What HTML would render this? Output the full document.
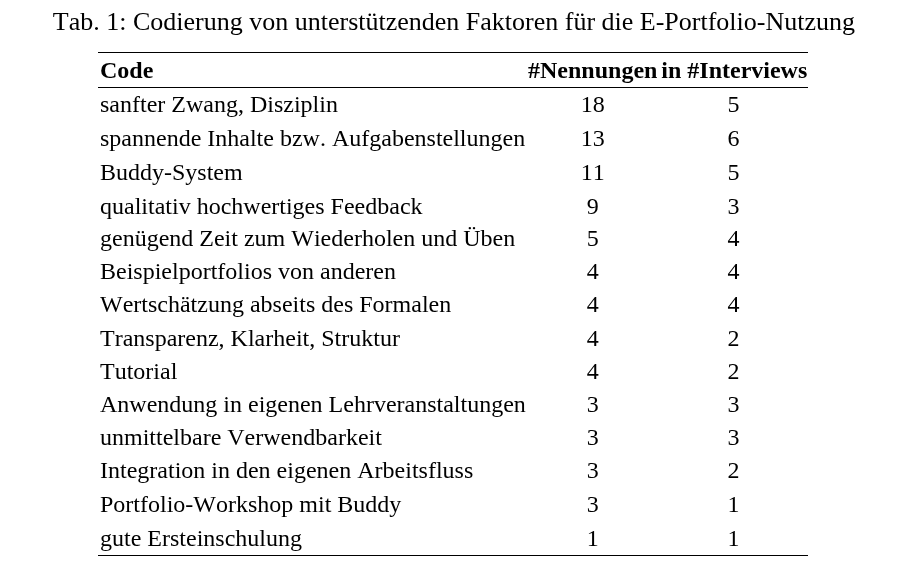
<!DOCTYPE html>
<html><head><meta charset="utf-8"><style>
html,body{margin:0;padding:0;background:#fff;}
body{width:910px;height:573px;position:relative;overflow:hidden;will-change:transform;font-family:"Liberation Serif",serif;color:#000;}
.t{position:absolute;white-space:nowrap;font-kerning:none;line-height:24px;font-size:24px;}
.b{font-weight:bold;}
.c{text-align:center;width:80px;}
.r{position:absolute;left:98px;width:710px;height:1px;background:#000;}
</style></head><body>

<div class="t" style="left:52.80px;top:9.00px;font-size:26px;line-height:26px">Tab. 1: Codierung von unterstützenden Faktoren für die E-Portfolio-Nutzung</div>
<div class="r" style="top:52px"></div>
<div class="r" style="top:87px"></div>
<div class="r" style="top:555px"></div>
<div class="t b" style="left:100.00px;top:58.00px">Code</div>
<div class="t b" style="left:528.00px;top:58.00px">#Nennungen</div>
<div class="t b" style="left:661.30px;top:58.00px">in #Interviews</div>
<div class="t" style="left:100.00px;top:92.00px">sanfter Zwang, Disziplin</div>
<div class="t c" style="left:552.80px;top:92.00px">18</div>
<div class="t c" style="left:693.60px;top:92.00px">5</div>
<div class="t" style="left:100.00px;top:126.00px">spannende Inhalte bzw. Aufgabenstellungen</div>
<div class="t c" style="left:552.80px;top:126.00px">13</div>
<div class="t c" style="left:693.60px;top:126.00px">6</div>
<div class="t" style="left:100.00px;top:160.00px">Buddy-System</div>
<div class="t c" style="left:552.80px;top:160.00px">11</div>
<div class="t c" style="left:693.60px;top:160.00px">5</div>
<div class="t" style="left:100.00px;top:194.00px">qualitativ hochwertiges Feedback</div>
<div class="t c" style="left:552.80px;top:194.00px">9</div>
<div class="t c" style="left:693.60px;top:194.00px">3</div>
<div class="t" style="left:100.00px;top:226.00px">genügend Zeit zum Wiederholen und Üben</div>
<div class="t c" style="left:552.80px;top:226.00px">5</div>
<div class="t c" style="left:693.60px;top:226.00px">4</div>
<div class="t" style="left:100.00px;top:259.00px">Beispielportfolios von anderen</div>
<div class="t c" style="left:552.80px;top:259.00px">4</div>
<div class="t c" style="left:693.60px;top:259.00px">4</div>
<div class="t" style="left:100.00px;top:292.00px">Wertschätzung abseits des Formalen</div>
<div class="t c" style="left:552.80px;top:292.00px">4</div>
<div class="t c" style="left:693.60px;top:292.00px">4</div>
<div class="t" style="left:100.00px;top:326.00px">Transparenz, Klarheit, Struktur</div>
<div class="t c" style="left:552.80px;top:326.00px">4</div>
<div class="t c" style="left:693.60px;top:326.00px">2</div>
<div class="t" style="left:100.00px;top:359.00px">Tutorial</div>
<div class="t c" style="left:552.80px;top:359.00px">4</div>
<div class="t c" style="left:693.60px;top:359.00px">2</div>
<div class="t" style="left:100.00px;top:392.00px">Anwendung in eigenen Lehrveranstaltungen</div>
<div class="t c" style="left:552.80px;top:392.00px">3</div>
<div class="t c" style="left:693.60px;top:392.00px">3</div>
<div class="t" style="left:100.00px;top:425.00px">unmittelbare Verwendbarkeit</div>
<div class="t c" style="left:552.80px;top:425.00px">3</div>
<div class="t c" style="left:693.60px;top:425.00px">3</div>
<div class="t" style="left:100.00px;top:458.00px">Integration in den eigenen Arbeitsfluss</div>
<div class="t c" style="left:552.80px;top:458.00px">3</div>
<div class="t c" style="left:693.60px;top:458.00px">2</div>
<div class="t" style="left:100.00px;top:492.00px">Portfolio-Workshop mit Buddy</div>
<div class="t c" style="left:552.80px;top:492.00px">3</div>
<div class="t c" style="left:693.60px;top:492.00px">1</div>
<div class="t" style="left:100.00px;top:526.00px">gute Ersteinschulung</div>
<div class="t c" style="left:552.80px;top:526.00px">1</div>
<div class="t c" style="left:693.60px;top:526.00px">1</div>
</body></html>
